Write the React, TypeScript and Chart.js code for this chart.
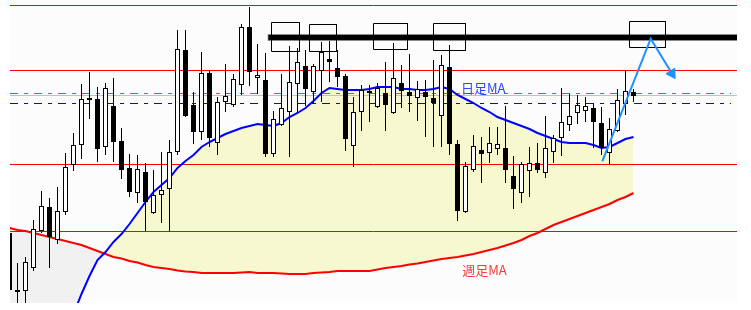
import React, { useEffect, useRef } from "react";
import { Chart, registerables } from "chart.js";

Chart.register(...registerables);

// Day index of each candle (position along the time axis)
const DAYS = Array.from({ length: 79 }, (_, i) => i + 1);

const OPEN = [77,20,19,42,79,103,70,98,145,165,211,211,163,204,169,142,117,138,97,115,121,158,260,205,178,237,167,208,205,225,283,232,230,156,185,198,226,244,218,239,251,242,234,164,198,219,203,217,197,227,218,212,218,212,194,243,166,98,140,160,157,161,162,134,117,139,147,137,158,172,185,197,199,202,187,157,179,206,218];
const HIGH = [80,47,53,90,119,112,123,157,177,226,238,223,227,232,182,156,155,147,140,158,170,280,280,218,258,239,213,246,236,286,303,266,257,199,236,264,262,260,246,268,270,260,236,213,225,225,227,248,267,245,256,229,230,250,255,265,170,148,175,173,183,183,204,154,148,163,167,194,175,222,216,215,213,207,203,192,221,240,221];
const LOW = [5,5,5,39,77,42,66,95,139,151,191,148,155,148,131,113,107,79,96,87,78,155,193,166,170,163,155,198,203,215,224,216,153,153,184,153,197,204,206,208,228,223,159,143,179,188,202,179,196,202,198,189,173,163,163,155,89,97,138,127,147,155,127,101,107,113,137,132,147,154,179,186,188,162,155,146,178,195,208];
const CLOSE = [20,18,48,81,104,73,99,143,165,211,210,161,222,168,140,118,141,108,115,120,158,261,194,178,237,172,208,214,231,283,238,235,156,191,202,228,248,221,244,258,248,233,171,198,220,217,222,205,232,219,214,221,213,207,245,166,99,144,164,156,167,166,140,121,146,147,140,162,172,188,194,205,204,188,162,181,210,219,214];

// 日足MA (daily moving average) and 週足MA (weekly moving average)
const DAILY_MA = [-110,-95,-82,-68,-55,-42,-30,-17,-4,16,34,50,58,68,76,86,97,108,118,125,132,142,149,155,163,168,172,176,179,182,184,186,185,184,187,193,197,202,209,217,222,221,220,220,220,221,223,223,223,221,221,220,220,221,223,221,215,211,207,202,198,193,190,187,184,181,177,174,171,168,167,167,167,165,162,163,167,171,173];
const WEEKLY_MA = [82,80,79,77,75,73,71,69,67,65,62,59,56,53,51.5,49,47.5,45,43,42,41,39.5,38.5,38,37,37,37,37,37,37.5,38,37,37,37,36.5,36,36,36,37,37.5,38,39,39,39,39,39,40.5,42,43,44,45.5,46.5,48,49.5,51,52,53,54.5,56,58,60,62,64.5,67,70,74,77,81,85,88,91,94,97,100,103,106,110,113,117];

// Horizontal price levels
const RED_LEVELS = [304.5, 239.5, 145.5, 78.5];
const PINK_LEVEL = 216.5;
const GRAY_LEVEL = 214.5;
const BLUE_LEVEL = 206.5;
const RESISTANCE = 272.5;

// Axis range
const X_MIN = 1.0625;
const X_MAX = 91.9375;
const Y_MIN = 7;
const Y_MAX = 310;
const DASH_END = 91.19;
const RESISTANCE_START = 33.27;

// Boxes: [xFrom, xTo, yTop, yBottom]
const BOX_X1 = [33.75, 38.5, 46.5, 54, 78.5];
const BOX_X2 = [37.25, 41.875, 50.75, 58, 83];
const BOX_Y1 = [287.5, 285.5, 286.5, 286.5, 288.5];
const BOX_Y2 = [258.5, 258.5, 260.5, 259.5, 262.5];

// Scenario arrow
const ARROW_X = [75.1, 81.15, 83.81];
const ARROW_Y = [148.7, 271.3, 236.5];

const LABEL_TEXT = ["日足MA", "週足MA"];
const LABEL_X = [57.44, 57.6];
const LABEL_Y = [221.5, 39.5];
const LABEL_COLOR = ["#2a46ff", "#ff3838"];

const bgPlugin = {
  id: "plotBg",
  beforeDraw(chart: any) {
    const { ctx, chartArea } = chart;
    ctx.save();
    ctx.fillStyle = "#fcfcfc";
    ctx.fillRect(chartArea.left, chartArea.top, chartArea.right - chartArea.left, chartArea.bottom - chartArea.top);
    ctx.restore();
  },
};

const labelPlugin = {
  id: "maLabels",
  afterDatasetsDraw(chart: any) {
    const { ctx } = chart;
    const xs = chart.scales.x;
    const ys = chart.scales.y;
    ctx.save();
    ctx.font = '13px "Noto Sans CJK JP", "Noto Sans", sans-serif';
    ctx.textBaseline = "middle";
    ctx.textAlign = "left";
    LABEL_TEXT.forEach((t, i) => {
      ctx.fillStyle = LABEL_COLOR[i];
      ctx.fillText(t, xs.getPixelForValue(LABEL_X[i]), ys.getPixelForValue(LABEL_Y[i]));
    });
    ctx.restore();
  },
};

function hline(y: number, x1: number, x2: number, color: string, width: number, order: number, dash: number[] = []) {
  return {
    type: "line" as const,
    data: [{ x: x1, y }, { x: x2, y }],
    borderColor: color,
    borderWidth: width,
    borderDash: dash,
    pointRadius: 0,
    fill: false,
    clip: 0,
    order,
  };
}

export default function App() {
  const ref = useRef<HTMLCanvasElement>(null);

  useEffect(() => {
    if (!ref.current) return;
    const bodyColors = DAYS.map((_, i) => (CLOSE[i] >= OPEN[i] ? "#ffffff" : "#000000"));
    const datasets: any[] = [
      {
        type: "bar",
        data: DAYS.map((d, i) => ({ x: d, y: [OPEN[i], CLOSE[i]] })),
        backgroundColor: bodyColors,
        borderColor: "#000000",
        borderWidth: 1,
        borderSkipped: false,
        barThickness: 5,
        grouped: false,
        minBarLength: 2,
        inflateAmount: 0,
        clip: 0,
        order: 4,
      },
      {
        type: "bar",
        data: DAYS.map((d, i) => ({ x: d, y: [LOW[i], HIGH[i]] })),
        backgroundColor: "#000000",
        borderWidth: 0,
        barThickness: 1,
        grouped: false,
        inflateAmount: 0,
        clip: 0,
        order: 5,
      },
      {
        type: "line",
        data: DAYS.map((d, i) => ({ x: d, y: DAILY_MA[i] })),
        borderColor: "#0000ff",
        borderWidth: 2,
        pointRadius: 0,
        tension: 0,
        fill: { target: 3, above: "#f7f7d0", below: "#f1f1f1" },
        clip: 0,
        order: 6,
      },
      {
        type: "line",
        data: DAYS.map((d, i) => ({ x: d, y: WEEKLY_MA[i] })),
        borderColor: "#ff0000",
        borderWidth: 2,
        pointRadius: 0,
        tension: 0,
        fill: false,
        clip: 0,
        order: 7,
      },
      ...RED_LEVELS.map((v) => hline(v, X_MIN, X_MAX, "#ff0000", 1, 8)),
      hline(PINK_LEVEL, X_MIN, DASH_END, "#e6338c", 1, 8, [8, 6, 4, 6]),
      hline(GRAY_LEVEL, X_MIN, X_MAX, "#c0c0c0", 1, 9),
      hline(BLUE_LEVEL, X_MIN, DASH_END, "#0000ff", 1, 8, [8, 6, 4, 6]),
      hline(RESISTANCE, RESISTANCE_START, X_MAX, "#8a8a8a", 7, 3),
      hline(RESISTANCE, RESISTANCE_START + 0.1, X_MAX, "#000000", 5, 2),
      ...BOX_X1.map((x1, i) => ({
        type: "line",
        data: [
          { x: x1, y: BOX_Y1[i] },
          { x: BOX_X2[i], y: BOX_Y1[i] },
          { x: BOX_X2[i], y: BOX_Y2[i] },
          { x: x1, y: BOX_Y2[i] },
          { x: x1, y: BOX_Y1[i] },
        ],
        borderColor: "#000000",
        borderWidth: 1,
        borderJoinStyle: "miter",
        pointRadius: 0,
        fill: false,
        clip: 0,
        order: 1,
      })),
      {
        type: "line",
        data: ARROW_X.map((x, i) => ({ x, y: ARROW_Y[i] })),
        borderColor: "#1e90ff",
        borderWidth: 2,
        borderJoinStyle: "miter",
        pointRadius: [0, 0, 6],
        pointStyle: "triangle",
        pointRotation: [0, 0, 148],
        pointBackgroundColor: "#1e90ff",
        pointBorderColor: "#1e90ff",
        pointBorderWidth: 1,
        fill: false,
        clip: 0,
        order: 0,
      },
    ];

    const chart = new Chart(ref.current, {
      type: "line",
      data: { datasets },
      options: {
        responsive: false,
        devicePixelRatio: 1,
        animation: false,
        events: [],
        layout: { autoPadding: false, padding: { left: 10, right: 14, top: 0, bottom: 7 } },
        scales: {
          x: { type: "linear", min: X_MIN, max: X_MAX, display: false, offset: false, grid: { display: false } },
          y: { type: "linear", min: Y_MIN, max: Y_MAX, display: false, grid: { display: false } },
        },
        plugins: {
          legend: { display: false },
          tooltip: { enabled: false },
          filler: { drawTime: "beforeDatasetsDraw" },
        },
      } as any,
      plugins: [bgPlugin, labelPlugin],
    });
    return () => chart.destroy();
  }, []);

  return (
    <div style={{ position: "fixed", left: 0, top: 0, width: 751, height: 310, background: "#ffffff" }}>
      <canvas ref={ref} width={751} height={310} style={{ display: "block", width: 751, height: 310 }} />
    </div>
  );
}
